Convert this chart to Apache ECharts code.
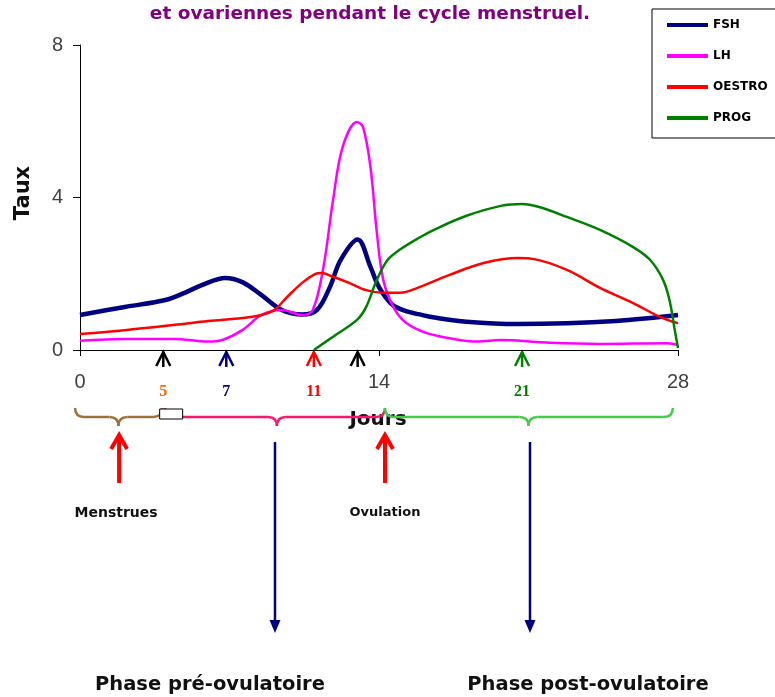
<!DOCTYPE html>
<html><head><meta charset="utf-8">
<script src="https://cdn.jsdelivr.net/npm/echarts@6/dist/echarts.min.js"></script>
<style>html,body{margin:0;padding:0;background:#fff;} #c{width:775px;height:697px;}</style>
</head><body><div id="c"></div>
<script>
// ---- data ----
const seriesNames = ['FSH', 'LH', 'OESTRO', 'PROG'];
const fshDays = [0, 2.1, 4, 4.9, 5.7, 6.8, 7.6, 8.5, 9.45, 10.4, 11.1, 11.7, 12.2, 13.0, 13.6, 14.0, 14.6, 15.2, 16.0, 16.6, 18.1, 20.5, 22.8, 25.1, 26.7, 28];
const fshVals = [0.92, 1.13, 1.31, 1.5, 1.7, 1.89, 1.78, 1.44, 1.05, 0.93, 1.05, 1.65, 2.36, 2.9, 2.18, 1.65, 1.2, 1.03, 0.92, 0.85, 0.74, 0.68, 0.7, 0.76, 0.84, 0.92];
const lhDays = [0, 2.1, 4.4, 6.0, 6.7, 7.6, 8.5, 9.45, 10.4, 10.9, 11.4, 11.85, 12.3, 12.97, 13.25, 13.6, 13.9, 14.2, 14.7, 15.3, 16.2, 17.3, 18.6, 19.7, 22, 24.35, 27.5, 28];
const lhVals = [0.24, 0.29, 0.29, 0.22, 0.27, 0.52, 0.92, 1.05, 0.92, 1.05, 2.18, 3.94, 5.33, 5.98, 5.85, 4.8, 3.07, 1.84, 1.1, 0.7, 0.45, 0.31, 0.22, 0.26, 0.19, 0.16, 0.18, 0.13];
const oestroDays = [0, 2.1, 4.45, 6.0, 7.6, 8.5, 9.1, 9.7, 10.4, 11.0, 11.3, 11.85, 12.6, 13.4, 14.2, 15.0, 15.8, 17.3, 18.9, 20.5, 21.2, 22.8, 24.35, 25.9, 27.15, 28];
const oestroVals = [0.42, 0.52, 0.66, 0.76, 0.84, 0.92, 1.05, 1.39, 1.76, 1.99, 2.02, 1.92, 1.76, 1.57, 1.5, 1.5, 1.63, 1.97, 2.28, 2.41, 2.39, 2.1, 1.63, 1.23, 0.87, 0.7];
const progDays = [10.95, 11.85, 12.97, 13.4, 13.9, 14.4, 15.0, 15.9, 16.6, 18.1, 19.7, 20.7, 21.5, 22.8, 24.35, 25.9, 26.7, 27.3, 27.6, 27.85, 28];
const progVals = [0, 0.35, 0.79, 1.13, 1.84, 2.36, 2.64, 2.95, 3.16, 3.52, 3.78, 3.83, 3.75, 3.49, 3.15, 2.7, 2.36, 1.84, 1.31, 0.52, 0.05];
const xTicks = [0, 14, 28];
const yTicks = [0, 4, 8];
const markerDays = [3.9, 6.85, 10.95, 13.0, 20.7];
const markerLabels = ['5', '7', '11', '', '21'];
const braceStarts = [-0.23, 3.98, 14.28];
const braceEnds = [3.84, 14.28, 27.76];
const braceMids = [1.8, 9.22, 21.0];
const upArrowDays = [1.83, 14.28];
const upArrowLabels = ['Menstrues', 'Ovulation'];
const downArrowDays = [9.13, 21.07];
const downArrowLabels = ['Phase pré-ovulatoire', 'Phase post-ovulatoire'];
const titleText = 'et ovariennes pendant le cycle menstruel.';

// ---- styles ----
const lineColors = ['#000080', '#ff00ff', '#ff0000', '#008000'];
const lineWidths = [4.5, 2.5, 2.5, 2.5];
const markerColors = ['#000000', '#000080', '#ff0000', '#000000', '#008000'];
const markerLabelColors = ['#ff6600', '#000080', '#ff0000', '#000000', '#008000'];
const braceColors = ['#a0703c', '#f5196e', '#44cc44'];
const comic = '"DejaVu Sans", sans-serif';

const pairs = (d, v) => d.map((x, i) => [x, v[i]]);
const allData = [pairs(fshDays, fshVals), pairs(lhDays, lhVals), pairs(oestroDays, oestroVals), pairs(progDays, progVals)];

const chart = echarts.init(document.getElementById('c'), null, {renderer: 'canvas'});
const option = {
  animation: false,
  backgroundColor: '#fff',
  grid: {left: 80, right: 97, top: 45, bottom: 347, containLabel: false},
  legend: {
    orient: 'vertical', left: 652, top: 9,
    padding: [10, 30, 14, 15],
    borderColor: '#000', borderWidth: 1,
    itemWidth: 41, itemHeight: 4, itemGap: 19,
    icon: 'rect',
    textStyle: {fontFamily: comic, fontWeight: 'bold', fontSize: 12, color: '#000'},
    data: seriesNames
  },
  xAxis: {
    type: 'value', min: 0, max: 28, interval: 14,
    axisLine: {lineStyle: {color: '#000', width: 1}},
    axisTick: {show: true, length: 6, lineStyle: {color: '#000'}},
    splitLine: {show: false},
    axisLabel: {margin: 22, fontSize: 20, color: '#404040', fontFamily: '"Liberation Sans", Arial, sans-serif',
      formatter: v => xTicks.includes(v) ? String(v) : ''}
  },
  yAxis: {
    type: 'value', min: 0, max: 8, interval: 4,
    axisLine: {show: true, lineStyle: {color: '#000', width: 1}},
    axisTick: {show: true, length: 7, lineStyle: {color: '#000'}},
    splitLine: {show: false},
    axisLabel: {margin: 17, fontSize: 20, color: '#404040', fontFamily: '"Liberation Sans", Arial, sans-serif',
      formatter: v => yTicks.includes(v) ? String(v) : ''}
  },
  series: seriesNames.map((n, i) => ({
    name: n, type: 'line', data: allData[i], smooth: 0.35,
    showSymbol: false, symbol: 'none',
    lineStyle: {color: lineColors[i], width: lineWidths[i]},
    itemStyle: {color: lineColors[i]},
    z: 2 + i
  }))
};
chart.setOption(option);

const px = d => chart.convertToPixel({xAxisIndex: 0}, d);
const g = [];
// title
g.push({type: 'text', style: {text: titleText, x: 370, y: 14, align: 'center', verticalAlign: 'middle',
  font: 'bold 18.5px ' + comic, fill: '#800080'}});
// Taux
g.push({type: 'text', x: 24, y: 193, rotation: Math.PI / 2, style: {text: 'Taux', x: 0, y: 0, align: 'center', verticalAlign: 'middle',
  font: 'bold 21px "DejaVu Sans", sans-serif', fill: '#111'}});
// Jours
g.push({type: 'text', z: 1, style: {text: 'Jours', x: 378, y: 420, align: 'center', verticalAlign: 'middle',
  font: 'bold 20px "DejaVu Sans", sans-serif', fill: '#111'}});
// markers on the axis
markerDays.forEach((d, i) => {
  const x = px(d);
  g.push({type: 'polyline', shape: {points: [[x - 7, 366], [x, 352], [x + 7, 366]]}, style: {stroke: markerColors[i], lineWidth: 2.5, fill: null}});
  g.push({type: 'line', shape: {x1: x, y1: 352, x2: x, y2: 367}, style: {stroke: markerColors[i], lineWidth: 2.5}});
  if (markerLabels[i]) g.push({type: 'text', style: {text: markerLabels[i], x: x, y: 392, align: 'center', verticalAlign: 'middle',
    font: 'bold 16px "Liberation Serif", serif', fill: markerLabelColors[i]}});
});
// braces
braceStarts.forEach((s, i) => {
  const x1 = px(s), x2 = px(braceEnds[i]), xm = px(braceMids[i]);
  const yt = 408, yl = 417, yp = 426, r = 9;
  const st = {stroke: braceColors[i], lineWidth: 2.5, fill: null};
  g.push({type: 'bezierCurve', z: 2, shape: {x1: x1, y1: yt, cpx1: x1, cpy1: yl, x2: x1 + r, y2: yl}, style: st});
  g.push({type: 'line', z: 2, shape: {x1: x1 + r, y1: yl, x2: xm - r, y2: yl}, style: st});
  g.push({type: 'bezierCurve', z: 2, shape: {x1: xm - r, y1: yl, cpx1: xm, cpy1: yl, x2: xm, y2: yp}, style: st});
  g.push({type: 'bezierCurve', z: 2, shape: {x1: xm, y1: yp, cpx1: xm, cpy1: yl, x2: xm + r, y2: yl}, style: st});
  g.push({type: 'line', z: 2, shape: {x1: xm + r, y1: yl, x2: x2 - r, y2: yl}, style: st});
  g.push({type: 'bezierCurve', z: 2, shape: {x1: x2 - r, y1: yl, cpx1: x2, cpy1: yl, x2: x2, y2: yt}, style: st});
});
// small box
g.push({type: 'rect', z: 3, shape: {x: px(3.73), y: 409, width: 23, height: 10}, style: {stroke: '#000', lineWidth: 1, fill: '#fff'}});
// red up arrows
upArrowDays.forEach((d, i) => {
  const x = px(d);
  g.push({type: 'line', shape: {x1: x, y1: 436, x2: x, y2: 483}, style: {stroke: '#ff0000', lineWidth: 4}});
  g.push({type: 'polyline', shape: {points: [[x - 8, 449], [x, 435], [x + 8, 449]]}, style: {stroke: '#ff0000', lineWidth: 4, fill: null}});
  g.push({type: 'text', style: {text: upArrowLabels[i], x: x - (i === 0 ? 3 : 0), y: 513, align: 'center', verticalAlign: 'middle',
    font: 'bold ' + (i === 0 ? 14 : 13) + 'px ' + comic, fill: '#111'}});
});
// blue down arrows
downArrowDays.forEach((d, i) => {
  const x = px(d);
  g.push({type: 'line', shape: {x1: x, y1: 442, x2: x, y2: 624}, style: {stroke: '#000080', lineWidth: 2.5}});
  g.push({type: 'polygon', shape: {points: [[x - 5.5, 620], [x + 5.5, 620], [x, 633]]}, style: {fill: '#000080'}});
});
g.push({type: 'text', style: {text: downArrowLabels[0], x: 210, y: 685, align: 'center', verticalAlign: 'middle', font: 'bold 19.5px ' + comic, fill: '#111'}});
g.push({type: 'text', style: {text: downArrowLabels[1], x: 588, y: 685, align: 'center', verticalAlign: 'middle', font: 'bold 19.5px ' + comic, fill: '#111'}});
chart.setOption({graphic: {elements: g}});
</script>
</body></html>
